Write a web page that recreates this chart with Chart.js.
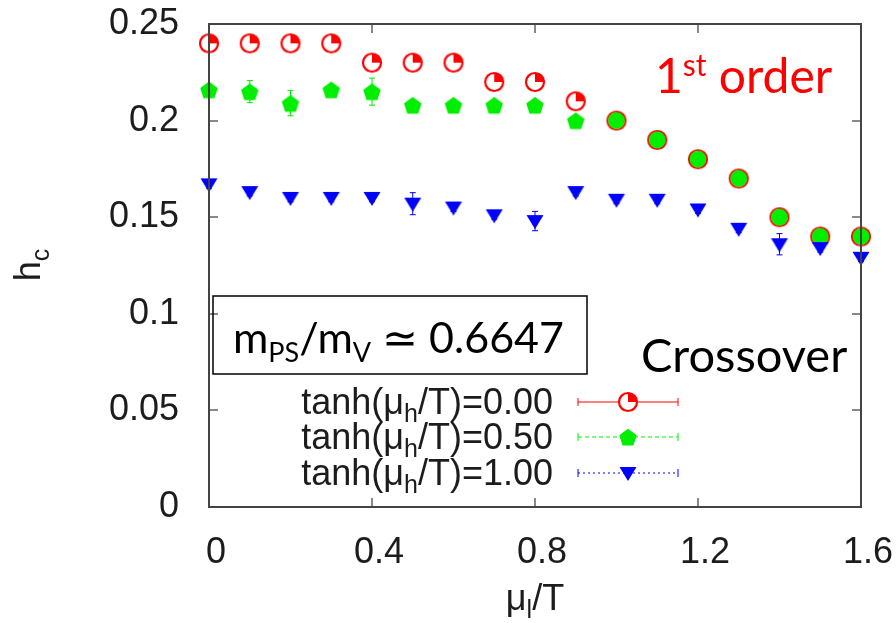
<!DOCTYPE html>
<html><head><meta charset="utf-8">
<script src="https://cdn.jsdelivr.net/npm/chart.js@4/dist/chart.umd.min.js"></script>
<style>html,body{margin:0;padding:0;background:#fff;}#wrap{width:896px;height:623px;}</style>
</head><body><div id="wrap"><canvas id="c" width="896" height="623"></canvas></div>
<script>
// ---- data ----
const muL = [0,0.1,0.2,0.3,0.4,0.5,0.6,0.7,0.8,0.9,1.0,1.1,1.2,1.3,1.4,1.5,1.6];
const hcTanh000 = [0.240,0.240,0.240,0.240,0.230,0.230,0.230,0.220,0.220,0.210,0.200,0.190,0.180,0.170,0.150,0.140,0.140];
const errTanh000 = [0.0015,0.0015,0.0015,0.0015,0.0015,0.0015,0.0015,0.0015,0.0015,0.0015,0.0015,0.0015,0.0015,0.0015,0.002,0.0015,0.0015];
const hcTanh050 = [0.216,0.215,0.209,0.216,0.215,0.208,0.208,0.208,0.208,0.200,0.200,0.190,0.180,0.170,0.150,0.140,0.140];
const errTanh050 = [0.002,0.0057,0.0065,0.002,0.007,0.002,0.002,0.002,0.002,0.002,0.002,0.002,0.002,0.002,0.002,0.002,0.002];
const hcTanh100 = [0.167,0.163,0.160,0.160,0.160,0.157,0.155,0.151,0.148,0.163,0.159,0.159,0.154,0.144,0.136,0.134,0.129];
const errTanh100 = [0.002,0.002,0.002,0.002,0.002,0.0057,0.002,0.002,0.005,0.002,0.002,0.002,0.002,0.002,0.0055,0.002,0.002];
const tanhValues = ['0.00','0.50','1.00'];
const xTickVals = [0,0.4,0.8,1.2,1.6];
const xTickLabels = ['0','0.4','0.8','1.2','1.6'];
const yTickVals = [0,0.05,0.1,0.15,0.2,0.25];
const yTickLabels = ['0','0.05','0.1','0.15','0.2','0.25'];

const RED='#ff0000', GREEN='#00ee00', BLUE='#0000ff';
const GP_FONT='"Liberation Sans", Arial, sans-serif';
const CAL_FONT='Lato, "Open Sans", sans-serif';
const TXT='#1c1c1c';

// ---- marker canvases ----
function marker(size, fn){const c=document.createElement('canvas');c.width=c.height=size;const g=c.getContext('2d');fn(g,size/2);return c;}
const redMark = marker(26,(g,c)=>{g.fillStyle='#fff';g.beginPath();g.arc(c,c,9,0,Math.PI*2);g.fill();
  g.fillStyle=RED;g.beginPath();g.moveTo(c,c);g.arc(c,c,9,-Math.PI/2,0);g.closePath();g.fill();
  g.strokeStyle=RED;g.lineWidth=2.2;g.beginPath();g.arc(c,c,9,0,Math.PI*2);g.stroke();});
const greenPent = marker(26,(g,c)=>{g.fillStyle=GREEN;g.beginPath();for(let k=0;k<5;k++){const a=-Math.PI/2+k*2*Math.PI/5;const px=c+9.2*Math.cos(a),py=c+1+9.2*Math.sin(a);k?g.lineTo(px,py):g.moveTo(px,py);}g.closePath();g.fill();});
const greenCirc = marker(26,(g,c)=>{g.fillStyle=GREEN;g.beginPath();g.arc(c,c,8.4,0,Math.PI*2);g.fill();});
const blueTri = marker(26,(g,c)=>{g.fillStyle=BLUE;g.beginPath();g.moveTo(c-8.5,c-6);g.lineTo(c+8.5,c-6);g.lineTo(c,c+8);g.closePath();g.fill();});

const pts = arr => muL.map((x,i)=>({x:x,y:arr[i]}));

// ---- plugins ----
const errorBars={id:'errorBars',beforeDatasetsDraw(chart){const {ctx,scales:{x,y}}=chart;
  chart.data.datasets.forEach(ds=>{ctx.save();ctx.strokeStyle=ds.borderColor;ctx.lineWidth=1;
    ds.errors.forEach((e,j)=>{const p=ds.data[j];const px=x.getPixelForValue(p.x);const yt=y.getPixelForValue(p.y+e),yb=y.getPixelForValue(p.y-e);
      ctx.beginPath();ctx.moveTo(px,yt);ctx.lineTo(px,yb);ctx.moveTo(px-3,yt);ctx.lineTo(px+3,yt);ctx.moveTo(px-3,yb);ctx.lineTo(px+3,yb);ctx.stroke();});
    ctx.restore();});}};

const frame={id:'frame',afterDatasetsDraw(chart){const {ctx,chartArea:a,scales:{x,y}}=chart;ctx.save();
  ctx.strokeStyle='#888';ctx.lineWidth=2;ctx.beginPath();
  yTickVals.forEach(v=>{const py=Math.round(y.getPixelForValue(v));ctx.moveTo(a.left,py);ctx.lineTo(a.left+9,py);ctx.moveTo(a.right,py);ctx.lineTo(a.right-9,py);});
  xTickVals.forEach(v=>{const px=Math.round(x.getPixelForValue(v));ctx.moveTo(px,a.bottom);ctx.lineTo(px,a.bottom-9);ctx.moveTo(px,a.top);ctx.lineTo(px,a.top+9);});
  ctx.stroke();
  ctx.strokeStyle='#444';ctx.lineWidth=2;ctx.strokeRect(a.left,a.top,a.right-a.left,a.bottom-a.top);
  ctx.restore();}};

function drawRuns(ctx,runs,x,y){let cx=x;runs.forEach(r=>{ctx.font=r[1]+'px '+r[3];ctx.fillText(r[0],cx,y+r[2]);cx+=ctx.measureText(r[0]).width;});return cx;}
function runsWidth(ctx,runs){let w=0;runs.forEach(r=>{ctx.font=r[1]+'px '+r[3];w+=ctx.measureText(r[0]).width;});return w;}

const annotations={id:'annotations',afterDraw(chart){const ctx=chart.ctx;ctx.save();ctx.textBaseline='alphabetic';ctx.textAlign='left';
  // legend
  const rowY=[402,437,473];
  chart.data.datasets.forEach((ds,i)=>{const runs=[['tanh(μ',36,0,GP_FONT],['h',25,8,GP_FONT],['/T)='+ds.tanh,36,0,GP_FONT]];
    ctx.fillStyle=TXT;const w=runsWidth(ctx,runs);drawRuns(ctx,runs,553-w,rowY[i]+12);
    ctx.strokeStyle=ds.borderColor;ctx.lineWidth=1;ctx.setLineDash(ds.legendDash);ctx.beginPath();ctx.moveTo(578,rowY[i]);ctx.lineTo(678,rowY[i]);ctx.stroke();
    ctx.setLineDash([]);ctx.beginPath();ctx.moveTo(578,rowY[i]-4);ctx.lineTo(578,rowY[i]+4);ctx.moveTo(678,rowY[i]-4);ctx.lineTo(678,rowY[i]+4);ctx.stroke();
    const m=ds.legendMarker;ctx.drawImage(m,628-m.width/2,rowY[i]-m.height/2);});
  // axis titles
  ctx.fillStyle=TXT;
  const xr=[['μ',36,0,GP_FONT],['l',25,8,GP_FONT],['/T',36,0,GP_FONT]];
  drawRuns(ctx,xr,535-runsWidth(ctx,xr)/2,610);
  ctx.save();ctx.translate(40,265);ctx.rotate(-Math.PI/2);
  const yr=[['h',36,0,GP_FONT],['c',25,9,GP_FONT]];drawRuns(ctx,yr,-runsWidth(ctx,yr)/2,0);ctx.restore();
  // mass ratio box
  ctx.strokeStyle='#000';ctx.lineWidth=1.5;ctx.strokeRect(213,296,374,78);
  ctx.fillStyle='#000';
  drawRuns(ctx,[['m',43,0,CAL_FONT],['PS',27,9,CAL_FONT],['/m',43,0,CAL_FONT],['V',27,9,CAL_FONT],[' ≃ 0.6647',43,0,CAL_FONT]],233,353);
  // region labels
  ctx.fillStyle=RED;drawRuns(ctx,[['1',48,0,CAL_FONT],['st',30,-17,CAL_FONT],[' order',48,0,CAL_FONT]],655,93);
  ctx.fillStyle='#000';drawRuns(ctx,[['Crossover',47,0,CAL_FONT]],641,372);
  ctx.restore();}};

new Chart(document.getElementById('c'),{
  type:'scatter',
  data:{datasets:[
    {label:'tanh(μh/T)=0.00',tanh:tanhValues[0],data:pts(hcTanh000),errors:errTanh000,borderColor:RED,backgroundColor:RED,pointStyle:redMark,legendMarker:redMark,legendDash:[],order:2,clip:false,pointRadius:9},
    {label:'tanh(μh/T)=0.50',tanh:tanhValues[1],data:pts(hcTanh050),errors:errTanh050,borderColor:GREEN,backgroundColor:GREEN,
      pointStyle:ctx=>(hcTanh050[ctx.dataIndex]===hcTanh000[ctx.dataIndex]?greenCirc:greenPent),legendMarker:greenPent,legendDash:[4,3],order:1,clip:false,pointRadius:9},
    {label:'tanh(μh/T)=1.00',tanh:tanhValues[2],data:pts(hcTanh100),errors:errTanh100,borderColor:BLUE,backgroundColor:BLUE,pointStyle:blueTri,legendMarker:blueTri,legendDash:[2,3],order:0,clip:false,pointRadius:9}
  ]},
  options:{responsive:false,animation:false,devicePixelRatio:1,
    layout:{padding:{top:24,right:35,left:0,bottom:0}},
    plugins:{legend:{display:false},tooltip:{enabled:false}},
    scales:{
      x:{type:'linear',min:0,max:1.6,grid:{display:false},border:{display:false},
        afterBuildTicks:s=>{s.ticks=xTickVals.map(v=>({value:v}));},
        afterFit:s=>{s.height=116;s.paddingLeft=0;s.paddingRight=0;s.paddingTop=0;s.paddingBottom=0;},
        ticks:{padding:16,labelOffset:7,color:TXT,font:{family:GP_FONT,size:36},maxRotation:0,callback:(v,i)=>xTickLabels[i]}},
      y:{type:'linear',min:0,max:0.25,grid:{display:false},border:{display:false},
        afterBuildTicks:s=>{s.ticks=yTickVals.map(v=>({value:v}));},
        afterFit:s=>{s.width=209;s.paddingLeft=0;s.paddingRight=0;s.paddingTop=0;s.paddingBottom=0;},
        ticks:{padding:22,color:TXT,font:{family:GP_FONT,size:36},callback:(v,i)=>yTickLabels[i]}}
    }},
  plugins:[errorBars,frame,annotations]
});
</script></body></html>
